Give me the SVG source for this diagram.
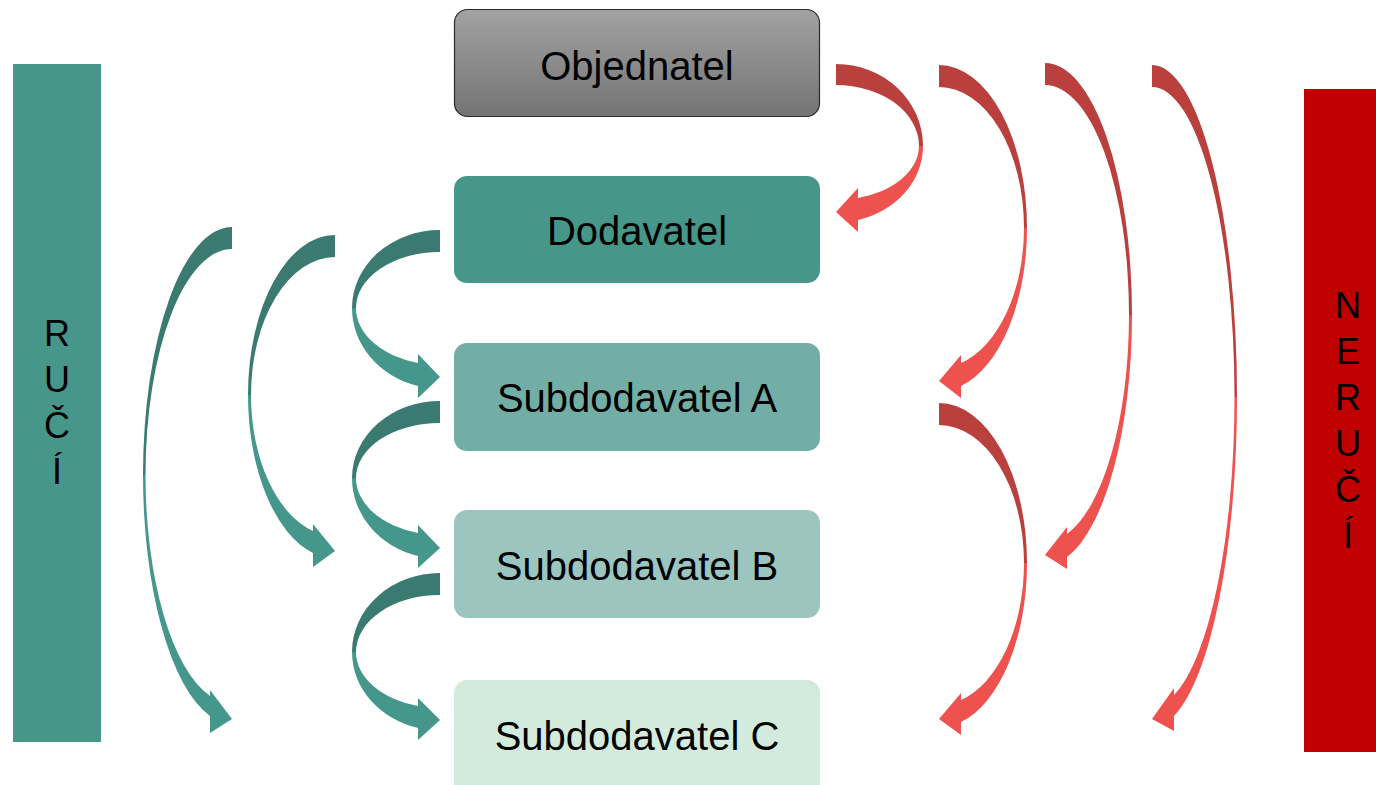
<svg xmlns="http://www.w3.org/2000/svg" width="1376" height="785" viewBox="0 0 1376 785">
<style>
.lbl{font-family:"Liberation Sans",Arial,sans-serif;font-size:40px;fill:#000;text-anchor:middle}
.bar{font-family:"Liberation Sans",Arial,sans-serif;font-size:36px;fill:#000;text-anchor:middle}
.rd{fill:#BA403E}.rl{fill:#EE524F}.td{fill:#3A7A70}.tl{fill:#46978B}
</style>
<defs>
<linearGradient id="gray" x1="0" y1="0" x2="0" y2="1">
<stop offset="0" stop-color="#A2A2A2"/><stop offset="1" stop-color="#747474"/>
</linearGradient>
</defs>
<rect width="1376" height="785" fill="#fff"/>
<g id="ruci"><rect x="13" y="64" width="88" height="678" fill="#47968A"/>
<text class="bar" x="57" y="346">R</text><text class="bar" x="57" y="392">U</text><text class="bar" x="57" y="438">Č</text><text class="bar" x="57" y="484">Í</text></g>
<g id="neruci"><rect x="1304" y="89" width="72" height="663" fill="#C00000"/>
<text class="bar" x="1348" y="318">N</text><text class="bar" x="1348" y="364">E</text><text class="bar" x="1348" y="410">R</text><text class="bar" x="1348" y="456">U</text><text class="bar" x="1348" y="502">Č</text><text class="bar" x="1348" y="548">Í</text></g>
<g id="objednatel"><rect x="454.5" y="9.5" width="365" height="107" rx="13" fill="url(#gray)" stroke="#2A2A2A" stroke-width="1.2"/><text class="lbl" x="637" y="80">Objednatel</text></g>
<g id="dodavatel"><rect x="454" y="176" width="366" height="107" rx="13" fill="#46968A"/><text class="lbl" x="637" y="245">Dodavatel</text></g>
<g id="subA"><rect x="454" y="343" width="366" height="108" rx="13" fill="#72AEA5"/><text class="lbl" x="637" y="412">Subdodavatel A</text></g>
<g id="subB"><rect x="454" y="510" width="366" height="108" rx="13" fill="#9CC5BF"/><text class="lbl" x="637" y="580">Subdodavatel B</text></g>
<g id="subC"><rect x="454" y="680" width="366" height="120" rx="13" fill="#D3EBDD"/><text class="lbl" x="637" y="750">Subdodavatel C</text></g>
<g id="connectors">
<path class="td" d="M440,230 A88,78 0 0 0 352,308 L356,308 A84,56 0 0 1 440,252 Z"/>
<path class="tl" d="M352,308 A88,80.6 0 0 0 418,386 L418,398 L440,377 L418,354 L418,363 A84,57 0 0 1 356,308 Z"/>
<path class="td" d="M440,401 A88,77 0 0 0 352,478 L356,478 A84,55 0 0 1 440,423 Z"/>
<path class="tl" d="M352,478 A88,80.6 0 0 0 418,556 L418,568 L440,548 L418,525 L418,533 A84,57 0 0 1 356,478 Z"/>
<path class="td" d="M440,573 A88,79 0 0 0 352,652 L356,652 A84,57 0 0 1 440,595 Z"/>
<path class="tl" d="M352,652 A88,78.5 0 0 0 418,728 L418,740 L440,720 L418,698 L418,706 A84,56 0 0 1 356,652 Z"/>
<path class="td" d="M335,235 A87,160 0 0 0 248,395 L251,395 A84,138 0 0 1 335,257 Z"/>
<path class="tl" d="M248,395 A87,163.3 0 0 0 313,553 L313,567 L335,551 L313,524 L313,531 A84,140.9 0 0 1 251,395 Z"/>
<path class="td" d="M232,227 A89,248 0 0 0 143,475 L145.5,475 A86.5,226 0 0 1 232,249 Z"/>
<path class="tl" d="M143,475 A89,248.7 0 0 0 210,716 L210,733 L232,719 L210,690 L210,696 A86.5,228.5 0 0 1 145.5,475 Z"/>
<path class="rd" d="M836,64 A87,82 0 0 1 923,146 L919,146 A83,61 0 0 0 836,85 Z"/>
<path class="rl" d="M923,146 A87,76.5 0 0 1 858,220 L858,232 L836,212 L858,188 L858,198 A83,54 0 0 0 919,146 Z"/>
<path class="rd" d="M939,65 A88,163 0 0 1 1027,228 L1024,228 A85,141 0 0 0 939,87 Z"/>
<path class="rl" d="M1027,228 A88,163.2 0 0 1 961,386 L961,398 L939,381 L961,355 L961,363 A85,139.8 0 0 0 1024,228 Z"/>
<path class="rd" d="M1045,63 A87,252 0 0 1 1132,315 L1129,315 A84,230 0 0 0 1045,85 Z"/>
<path class="rl" d="M1132,315 A87,250.1 0 0 1 1067,557 L1067,569 L1045,555 L1067,527 L1067,534 A84,226.9 0 0 0 1129,315 Z"/>
<path class="rd" d="M1152,65 A85,332 0 0 1 1237,397 L1234.5,397 A82.5,310 0 0 0 1152,87 Z"/>
<path class="rl" d="M1237,397 A85,330.2 0 0 1 1174,716 L1174,731 L1152,719 L1174,688 L1174,695 A82.5,309.1 0 0 0 1234.5,397 Z"/>
<path class="rd" d="M939,403 A88,160 0 0 1 1027,563 L1024,563 A85,138 0 0 0 939,425 Z"/>
<path class="rl" d="M1027,563 A88,164.3 0 0 1 961,722 L961,735 L939,719 L961,693 L961,700 A85,141.8 0 0 0 1024,563 Z"/>
</g>
</svg>
